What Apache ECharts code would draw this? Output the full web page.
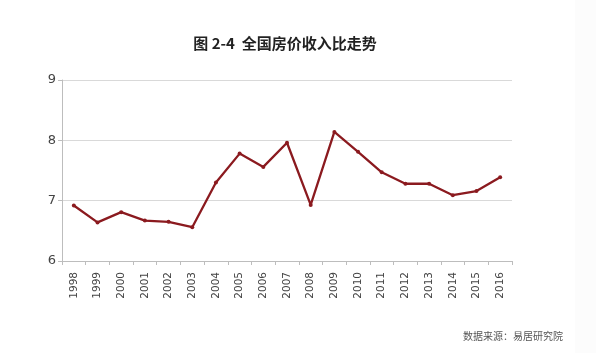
<!DOCTYPE html>
<html><head><meta charset="utf-8">
<script src="https://cdn.jsdelivr.net/npm/echarts@6/dist/echarts.min.js"></script>
<style>html,body{margin:0;padding:0;background:#fff;}#c{width:596px;height:353px;}</style>
</head><body><div id="c"></div>
<script>
const years = ['1998','1999','2000','2001','2002','2003','2004','2005','2006','2007','2008','2009','2010','2011','2012','2013','2014','2015','2016'];
const ratio = [6.92,6.64,6.81,6.67,6.65,6.56,7.30,7.78,7.56,7.96,6.93,8.14,7.81,7.47,7.28,7.28,7.09,7.16,7.39];
const yTicks = [6,7,8,9];
const titleText = '图 2-4  全国房价收入比走势';
const sourceText = '数据来源：易居研究院';

const chart = echarts.init(document.getElementById('c'), null, {renderer:'canvas'});
chart.setOption({
  animation:false,
  backgroundColor:'#fff',
  graphic:[{type:'rect',shape:{x:575,y:0,width:21,height:353},style:{fill:'#fcfcfc'},silent:true,z:-10}],
  title:[{text:titleText,left:280,top:31,textAlign:'center',
    textStyle:{fontFamily:'Noto Sans CJK SC',fontSize:15,fontWeight:'bold',color:'#222'}},
    {text:sourceText,right:28,top:326,
    textStyle:{fontFamily:'Noto Sans CJK SC',fontSize:10,fontWeight:'normal',color:'#555'}}],
  grid:{left:62,right:84,top:80,bottom:92},
  xAxis:{type:'category',data:years,boundaryGap:true,
    axisLine:{lineStyle:{color:'#bdbdbd',width:1}},
    axisTick:{show:true,length:4,lineStyle:{color:'#bdbdbd'}},
    axisLabel:{rotate:90,color:'#444',fontSize:10.5,fontFamily:'DejaVu Sans',margin:11,interval:0}},
  yAxis:{type:'value',min:6,max:9,interval:1,
    axisLine:{show:true,lineStyle:{color:'#bdbdbd'}},
    axisTick:{show:true,length:4,lineStyle:{color:'#bdbdbd'}},
    axisLabel:{color:'#444',fontSize:13,fontFamily:'DejaVu Sans',margin:6,
      formatter:v=>yTicks.includes(v)?String(v):''},
    splitLine:{lineStyle:{color:'#d9d9d9',width:1}}},
  series:[{type:'line',data:ratio,symbol:'circle',symbolSize:4,
    lineStyle:{color:'#8b1a1f',width:2.3},itemStyle:{color:'#8b1a1f'}}]
});
</script></body></html>
